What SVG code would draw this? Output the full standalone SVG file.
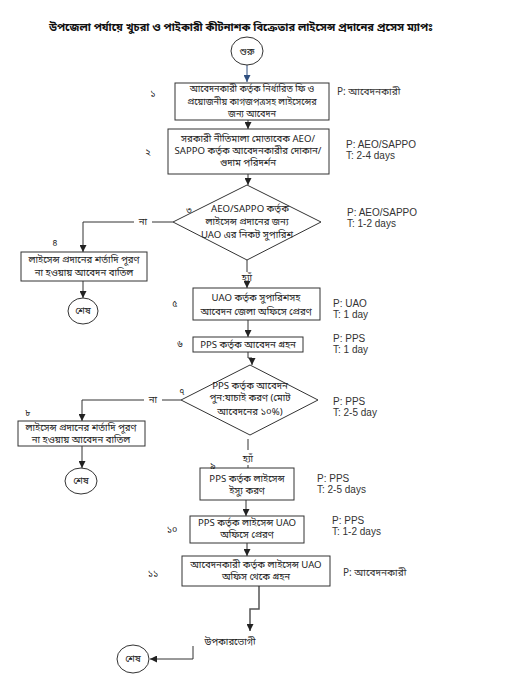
<svg xmlns="http://www.w3.org/2000/svg" width="528" height="697" viewBox="0 0 528 697">
<style>
.bx{fill:#fff;stroke:#333;stroke-width:1}
.bn{font-family:"Noto Sans Bengali","Lohit Bengali","Noto Sans","Liberation Serif",serif;font-size:9.6px;fill:#222;text-anchor:middle}
.sm{font-size:9.1px}
.num{font-family:"Noto Sans Bengali","Lohit Bengali","Noto Sans","Liberation Serif",serif;font-size:9px;fill:#222;text-anchor:middle}
.lb{font-family:"Liberation Sans",Arial,sans-serif;font-size:10px;fill:#333}
.lbb{font-family:"Noto Sans Bengali","Lohit Bengali","Liberation Sans",sans-serif;font-size:10px;fill:#333}
.ttl{font-family:"Noto Sans Bengali","Lohit Bengali","Noto Sans",sans-serif;font-size:11px;font-weight:bold;fill:#111;text-anchor:middle}
.cn{fill:none;stroke:#333;stroke-width:1}
</style>
<defs>
<marker id="ah" viewBox="0 0 10 10" refX="10" refY="5" markerWidth="7" markerHeight="7" markerUnits="userSpaceOnUse" orient="auto">
<path d="M0,0 L10,5 L0,10 z" fill="#222"/>
</marker>
<marker id="ahb" viewBox="0 0 10 10" refX="10" refY="5" markerWidth="7" markerHeight="7" markerUnits="userSpaceOnUse" orient="auto">
<path d="M0,0 L10,5 L0,10 z" fill="#2f4f80"/>
</marker>
</defs>
<rect width="528" height="697" fill="#fff"/>
<text class="ttl" x="241" y="31">উপজেলা পর্যায়ে খুচরা ও পাইকারী কীটনাশক বিক্রেতার লাইসেন্স প্রদানের প্রসেস ম্যাপঃ</text>

<g id="connectors">
<path class="cn" d="M247,65 L247,82" marker-end="url(#ahb)" style="stroke:#2f4f80"/>
<path class="cn" d="M248,120 L248,129" marker-end="url(#ah)"/>
<path class="cn" d="M248,174 L248,185" marker-end="url(#ah)"/>
<path class="cn" d="M173,222 L83,222 L83,252" marker-end="url(#ah)"/>
<path class="cn" d="M247,260 L247,272"/>
<path class="cn" d="M247,283 L247,288" marker-end="url(#ah)"/>
<path class="cn" d="M83,281 L83,298" marker-end="url(#ah)"/>
<path class="cn" d="M248,320 L248,337" marker-end="url(#ah)"/>
<path class="cn" d="M248,352 L248,358 L252,358 L252,365" marker-end="url(#ah)"/>
<path class="cn" d="M181,400 L82,400 L82,421" marker-end="url(#ah)"/>
<path class="cn" d="M82,446 L82,468" marker-end="url(#ah)"/>
<path class="cn" d="M248,439 L248,450"/>
<path class="cn" d="M248,465 L248,477" marker-end="url(#ah)"/>
<path class="cn" d="M246,500 L246,516" marker-end="url(#ah)"/>
<path class="cn" d="M247,543 L247,556" marker-end="url(#ah)"/>
<path class="cn" d="M259,586 L259,609 L250,609 L250,631" style="stroke:#555;stroke-width:1.5" marker-end="url(#ah)"/>
<path class="cn" d="M193,646 L193,659 L150,659" marker-end="url(#ah)"/>
<rect x="134" y="216" width="18" height="12" fill="#fff"/>
<text class="bn" x="143" y="225">না</text>
<rect x="144" y="394" width="18" height="12" fill="#fff"/>
<text class="bn" x="153" y="403">না</text>
<text class="bn" x="247" y="281">হ্যাঁ</text>
<text class="bn" x="248" y="462">হ্যাঁ</text>
</g>

<g id="start">
<ellipse cx="247" cy="51" rx="16" ry="14" class="bx"/>
<text class="bn" x="247" y="55">শুরু</text>
</g>

<g id="n1">
<rect x="175" y="83" width="154" height="37" class="bx"/>
<text class="bn sm" x="252" y="92">আবেদনকারী কর্তৃক নির্ধারিত ফি ও</text>
<text class="bn sm" x="252" y="104.5">প্রয়োজনীয় কাগজপত্রসহ লাইসেন্সের</text>
<text class="bn sm" x="252" y="116.5">জন্য আবেদন</text>
<text class="num" x="153" y="97">১</text>
<text class="lbb" x="337" y="95">P: আবেদনকারী</text>
</g>

<g id="n2">
<rect x="168" y="129" width="161" height="45" class="bx"/>
<text class="bn" x="248" y="142">সরকারী নীতিমালা মোতাবেক AEO/</text>
<text class="bn" x="248" y="154">SAPPO কর্তৃক আবেদনকারীর দোকান/</text>
<text class="bn" x="248" y="166">গুদাম পরিদর্শন</text>
<text class="num" x="148" y="155">২</text>
<text class="lb" x="346" y="148">P: AEO/SAPPO</text>
<text class="lb" x="346" y="159">T: 2-4 days</text>
</g>

<g id="n3">
<polygon points="247,185 321,222 247,260 173,222" class="bx"/>
<text class="bn" x="250" y="212">AEO/SAPPO কর্তৃক</text>
<text class="bn" x="247" y="225">লাইসেন্স প্রদানের জন্য</text>
<text class="bn" x="247" y="238">UAO এর নিকট সুপারিশ</text>
<text class="num" x="189" y="213">৩</text>
<text class="lb" x="347" y="216">P: AEO/SAPPO</text>
<text class="lb" x="347" y="227">T: 1-2 days</text>
</g>

<g id="n4">
<rect x="21" y="252" width="126" height="29" class="bx"/>
<text class="bn" x="84" y="263">লাইসেন্স প্রদানের শর্তাদি পূরণ</text>
<text class="bn" x="84" y="276">না হওয়ায়  আবেদন বাতিল</text>
<text class="num" x="55" y="246">৪</text>
</g>

<g id="end1">
<ellipse cx="83" cy="311" rx="15" ry="13" class="bx"/>
<text class="bn" x="83" y="314">শেষ</text>
</g>

<g id="n5">
<rect x="193" y="288" width="127" height="32" class="bx"/>
<text class="bn" x="256" y="301">UAO কর্তৃক সুপারিশসহ</text>
<text class="bn" x="256" y="315">আবেদন জেলা অফিসে প্রেরণ</text>
<text class="num" x="175" y="307">৫</text>
<text class="lb" x="333" y="307">P: UAO</text>
<text class="lb" x="333" y="318">T:  1 day</text>
</g>

<g id="n6">
<rect x="193" y="337" width="110" height="15" class="bx"/>
<text class="bn" x="248" y="348">PPS কর্তৃক আবেদন গ্রহন</text>
<text class="num" x="180" y="347">৬</text>
<text class="lb" x="333" y="342">P: PPS</text>
<text class="lb" x="333" y="353">T:  1 day</text>
</g>

<g id="n7">
<polygon points="250,365 318,400 250,435 181,400" class="bx"/>
<text class="bn" x="250" y="389">PPS কর্তৃক আবেদন</text>
<text class="bn" x="250" y="401">পুন:যাচাই করণ (মোট</text>
<text class="bn" x="250" y="415">আবেদনের ১০%)</text>
<text class="num" x="182" y="395">৭</text>
<text class="lb" x="333" y="405">P: PPS</text>
<text class="lb" x="333" y="416">T:  2-5 day</text>
</g>

<g id="n8">
<rect x="18" y="421" width="127" height="25" class="bx"/>
<text class="bn" x="81" y="431">লাইসেন্স প্রদানের শর্তাদি পূরণ</text>
<text class="bn" x="81" y="443">না হওয়ায়  আবেদন বাতিল</text>
<text class="num" x="28" y="416">৮</text>
</g>

<g id="end2">
<ellipse cx="81" cy="481" rx="16" ry="13" class="bx"/>
<text class="bn" x="81" y="484">শেষ</text>
</g>

<g id="n9">
<rect x="200" y="468" width="94" height="32" class="bx"/>
<text class="bn" x="247" y="482">PPS কর্তৃক লাইসেন্স</text>
<text class="bn" x="247" y="494">ইস্যু করণ</text>
<text class="num" x="213" y="469">৯</text>
<text class="lb" x="317" y="482">P: PPS</text>
<text class="lb" x="317" y="493">T:  2-5 days</text>
</g>

<g id="n10">
<rect x="190" y="516" width="114" height="27" class="bx"/>
<text class="bn" x="247" y="526">PPS কর্তৃক লাইসেন্স UAO</text>
<text class="bn" x="247" y="538">অফিসে প্রেরণ</text>
<text class="num" x="172" y="533">১০</text>
<text class="lb" x="332" y="524">P: PPS</text>
<text class="lb" x="332" y="535">T:  1-2 days</text>
</g>

<g id="n11">
<rect x="182" y="556" width="148" height="30" class="bx"/>
<text class="bn" x="256" y="568">আবেদনকারী কর্তৃক লাইসেন্স UAO</text>
<text class="bn" x="256" y="580">অফিস থেকে গ্রহন</text>
<text class="num" x="153" y="577">১১</text>
<text class="lbb" x="343" y="576">P: আবেদনকারী</text>
</g>

<g id="output">
<text class="bn" x="230" y="645">উপকারভোগী</text>
</g>

<g id="end3">
<ellipse cx="133" cy="659" rx="16" ry="14" class="bx"/>
<text class="bn" x="133" y="662">শেষ</text>
</g>
</svg>
